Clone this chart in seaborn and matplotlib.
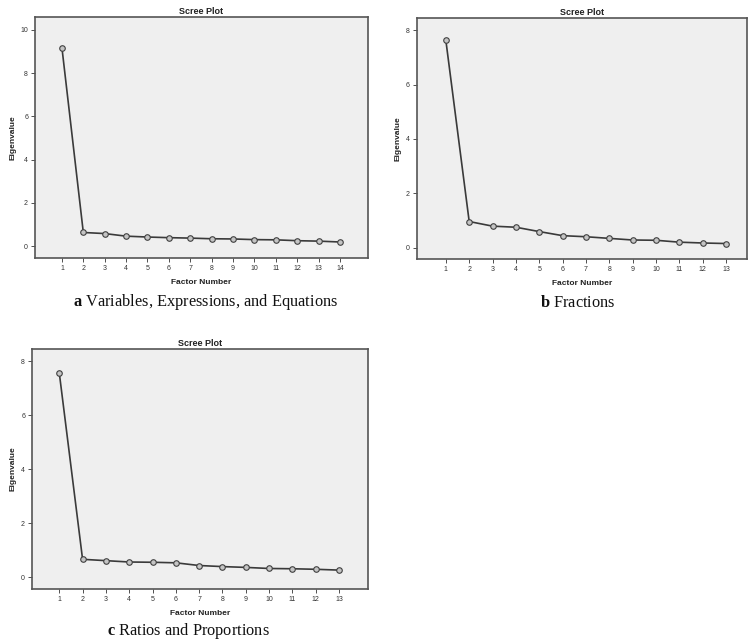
import matplotlib
matplotlib.use("Agg")
import matplotlib.pyplot as plt
import seaborn as sns
import pandas as pd

sns.set_theme(style="white")
plt.rcParams['font.family'] = ['Liberation Sans', 'DejaVu Sans']
plt.rcParams['mathtext.fontset'] = 'custom'
plt.rcParams['mathtext.rm'] = 'Liberation Serif'
plt.rcParams['mathtext.bf'] = 'Liberation Serif:bold'

factors_a = list(range(1, 15))
eigen_a = [9.18, 0.63, 0.58, 0.46, 0.42, 0.39, 0.37, 0.34, 0.33, 0.30, 0.29, 0.25, 0.23, 0.19]
factors_b = list(range(1, 14))
eigen_b = [7.63, 0.96, 0.79, 0.75, 0.59, 0.44, 0.40, 0.34, 0.28, 0.27, 0.20, 0.17, 0.15]
factors_c = list(range(1, 14))
eigen_c = [7.58, 0.67, 0.62, 0.57, 0.56, 0.54, 0.44, 0.40, 0.37, 0.33, 0.32, 0.30, 0.27]

captions = [("a", "Variables, Expressions, and Equations"),
            ("b", "Fractions"),
            ("c", "Ratios and Proportions")]

fig = plt.figure(figsize=(7.49, 6.44), dpi=100)
fig.patch.set_facecolor("white")

panels = [
    dict(rect=[0.0467, 0.5994, 0.4446, 0.3742], x=factors_a, y=eigen_a,
         xlim=(-0.26, 15.31), ylim=(-0.55, 10.6), yticks=[0, 2, 4, 6, 8, 10],
         cap=(0.275, 0.531)),
    dict(rect=[0.5563, 0.5978, 0.4410, 0.3742], x=factors_b, y=eigen_b,
         xlim=(-0.25, 13.9), ylim=(-0.42, 8.45), yticks=[0, 2, 4, 6, 8],
         cap=(0.771, 0.529)),
    dict(rect=[0.0427, 0.0854, 0.4486, 0.3727], x=factors_c, y=eigen_c,
         xlim=(-0.17, 14.24), ylim=(-0.43, 8.46), yticks=[0, 2, 4, 6, 8],
         cap=(0.252, 0.020)),
]

for p, (letter, cap) in zip(panels, captions):
    ax = fig.add_axes(p["rect"])
    df = pd.DataFrame({"Factor Number": p["x"], "Eigenvalue": p["y"]})
    sns.lineplot(data=df, x="Factor Number", y="Eigenvalue", ax=ax,
                 color="#3a3a3a", linewidth=1.2, marker="o", markersize=4,
                 markerfacecolor="#c4c4c4", markeredgecolor="#404040",
                 markeredgewidth=0.8)
    ax.set_facecolor("#efefef")
    ax.set_xlim(*p["xlim"])
    ax.set_ylim(*p["ylim"])
    ax.set_xticks(p["x"])
    ax.set_yticks(p["yticks"])
    ax.tick_params(axis="x", length=3, width=0.6, pad=2, labelsize=5,
                   colors="#333333", bottom=True)
    ax.tick_params(axis="y", length=3, width=0.6, pad=2, labelsize=5,
                   colors="#333333", left=True)
    for s in ax.spines.values():
        s.set_color("#555555")
        s.set_linewidth(1.2)
    ax.set_title("Scree Plot", fontsize=6.5, fontweight="bold", pad=2.5,
                 color="#222222")
    ax.set_xlabel("Factor Number", fontsize=6, fontweight="bold",
                  labelpad=5, color="#222222")
    ax.set_ylabel("Eigenvalue", fontsize=6, fontweight="bold",
                  labelpad=3, color="#222222")
    cx, cy = p["cap"]
    fig.text(cx, cy, r"$\mathbf{" + letter + "}$" + " " + cap, ha="center",
             va="center", fontsize=11.8, family="Liberation Serif",
             color="#111111")

fig.savefig("out.png", dpi=100)
